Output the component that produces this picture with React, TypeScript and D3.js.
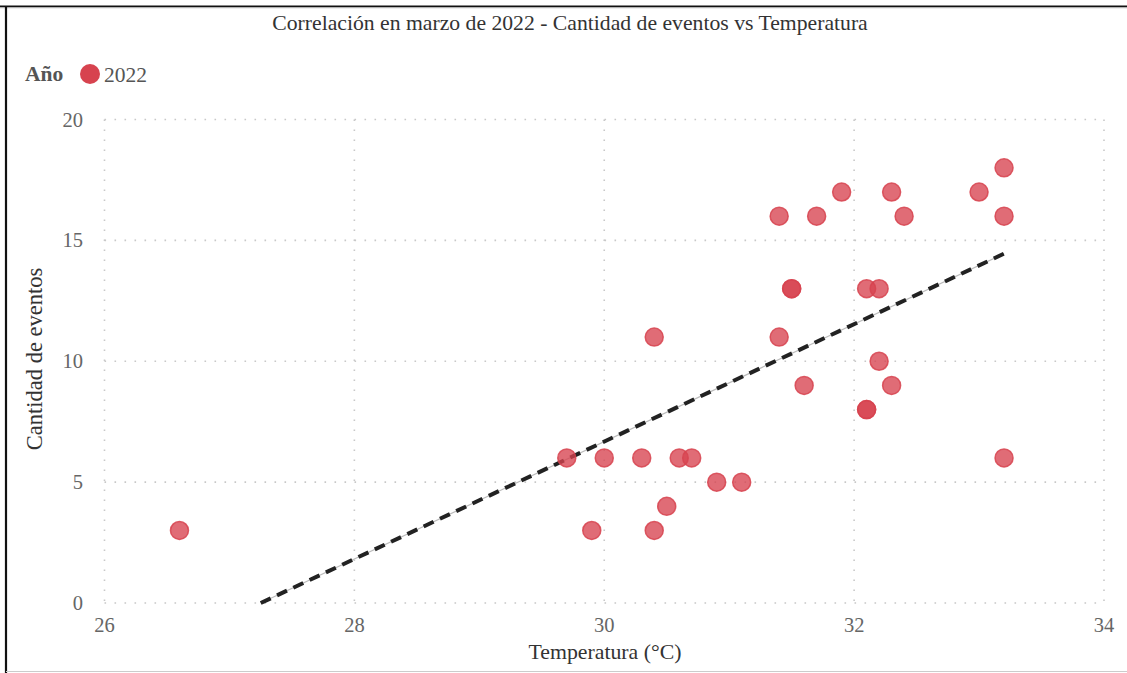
import React from "react";
import * as d3 from "d3";

const temps = [26.6, 29.7, 29.9, 30.0, 30.3, 30.4, 30.4, 30.5, 30.6, 30.7, 30.9, 31.1, 31.4, 31.4, 31.5, 31.5, 31.6, 31.7, 31.9, 32.1, 32.1, 32.1, 32.2, 32.2, 32.3, 32.3, 32.4, 33.0, 33.2, 33.2, 33.2];
const events = [3, 6, 3, 6, 6, 11, 3, 4, 6, 6, 5, 5, 16, 11, 13, 13, 9, 16, 17, 13, 8, 8, 13, 10, 17, 9, 16, 17, 18, 16, 6];
const xTicks = [26, 28, 30, 32, 34];
const yTicks = [0, 5, 10, 15, 20];
const title = "Correlación en marzo de 2022 - Cantidad de eventos vs Temperatura";
const legendTitle = "Año";
const legendLabel = "2022";

const W = 1127, H = 673;
const FONT = "'Liberation Serif', 'Times New Roman', serif";
const RED = "#D7434F";

export default function App() {
  const x = d3.scaleLinear().domain([26, 34]).range([104.5, 1104]);
  const y = d3.scaleLinear().domain([0, 20]).range([603, 119.5]);
  const pts = temps.map((t, i) => ({ t, e: events[i] }));
  const mx = d3.mean(temps)!, my = d3.mean(events)!;
  let sxy = 0, sxx = 0;
  pts.forEach(p => { sxy += (p.t - mx) * (p.e - my); sxx += (p.t - mx) ** 2; });
  const slope = sxy / sxx, icpt = my - slope * mx;
  const x0 = Math.max(d3.min(temps)!, -icpt / slope);
  const x1 = d3.max(temps)!;
  const line = d3.line<[number, number]>().x(d => x(d[0])).y(d => y(d[1]));
  const trend = line([[x0, icpt + slope * x0], [x1, icpt + slope * x1]])!;
  const gridStyle = { stroke: "#c8c8c8", strokeWidth: 1.6, strokeDasharray: "1.6,8.4", strokeLinecap: "butt" as const };
  return (
    <svg width={W} height={H} style={{ position: "absolute", left: 0, top: 0, background: "#fff" }} fontFamily={FONT}>
      <rect x={0} y={0} width={W} height={H} fill="#fff" />
      <line x1={0} x2={W} y1={6.5} y2={6.5} stroke="#111" strokeWidth={2.2} />
      <line x1={0} x2={W} y1={8} y2={8} stroke="#ddd" strokeWidth={1} />
      <line x1={6} x2={6} y1={6} y2={H} stroke="#111" strokeWidth={2.2} />
      <line x1={6} x2={W} y1={671.5} y2={671.5} stroke="#ccc" strokeWidth={1} />
      <text x={570} y={29.5} textAnchor="middle" fontSize={21.7} fill="#333">{title}</text>
      <text x={25} y={81} fontSize={21.5} fontWeight="bold" fill="#555">{legendTitle}</text>
      <circle cx={90} cy={74} r={10} fill={RED} />
      <text x={104} y={81.5} fontSize={21.5} fill="#555">{legendLabel}</text>
      {yTicks.map(v => (
        <g key={"y" + v}>
          <line x1={x(26)} x2={x(34)} y1={y(v)} y2={y(v)} {...gridStyle} />
          <text x={83} y={y(v) + 7} textAnchor="end" fontSize={20.5} fill="#666">{v}</text>
        </g>
      ))}
      {xTicks.map(v => (
        <g key={"x" + v}>
          <line x1={x(v)} x2={x(v)} y1={y(20)} y2={y(0)} {...gridStyle} />
          <text x={x(v)} y={632} textAnchor="middle" fontSize={20.5} fill="#666">{v}</text>
        </g>
      ))}
      <text x={605} y={659} textAnchor="middle" fontSize={21.8} fill="#333">Temperatura (°C)</text>
      <text transform={`translate(42,${359}) rotate(-90)`} textAnchor="middle" fontSize={22.5} fill="#333">Cantidad de eventos</text>
      <path d={trend} stroke="#bbb" strokeWidth={1.2} fill="none" />
      <path d={trend} stroke="#222" strokeWidth={4} strokeDasharray="11,7" fill="none" />
      {pts.map((p, i) => (
        <circle key={i} cx={x(p.t)} cy={y(p.e)} r={9} fill={RED} fillOpacity={0.78} stroke={RED} strokeWidth={1.5} strokeOpacity={0.85} />
      ))}
    </svg>
  );
}
